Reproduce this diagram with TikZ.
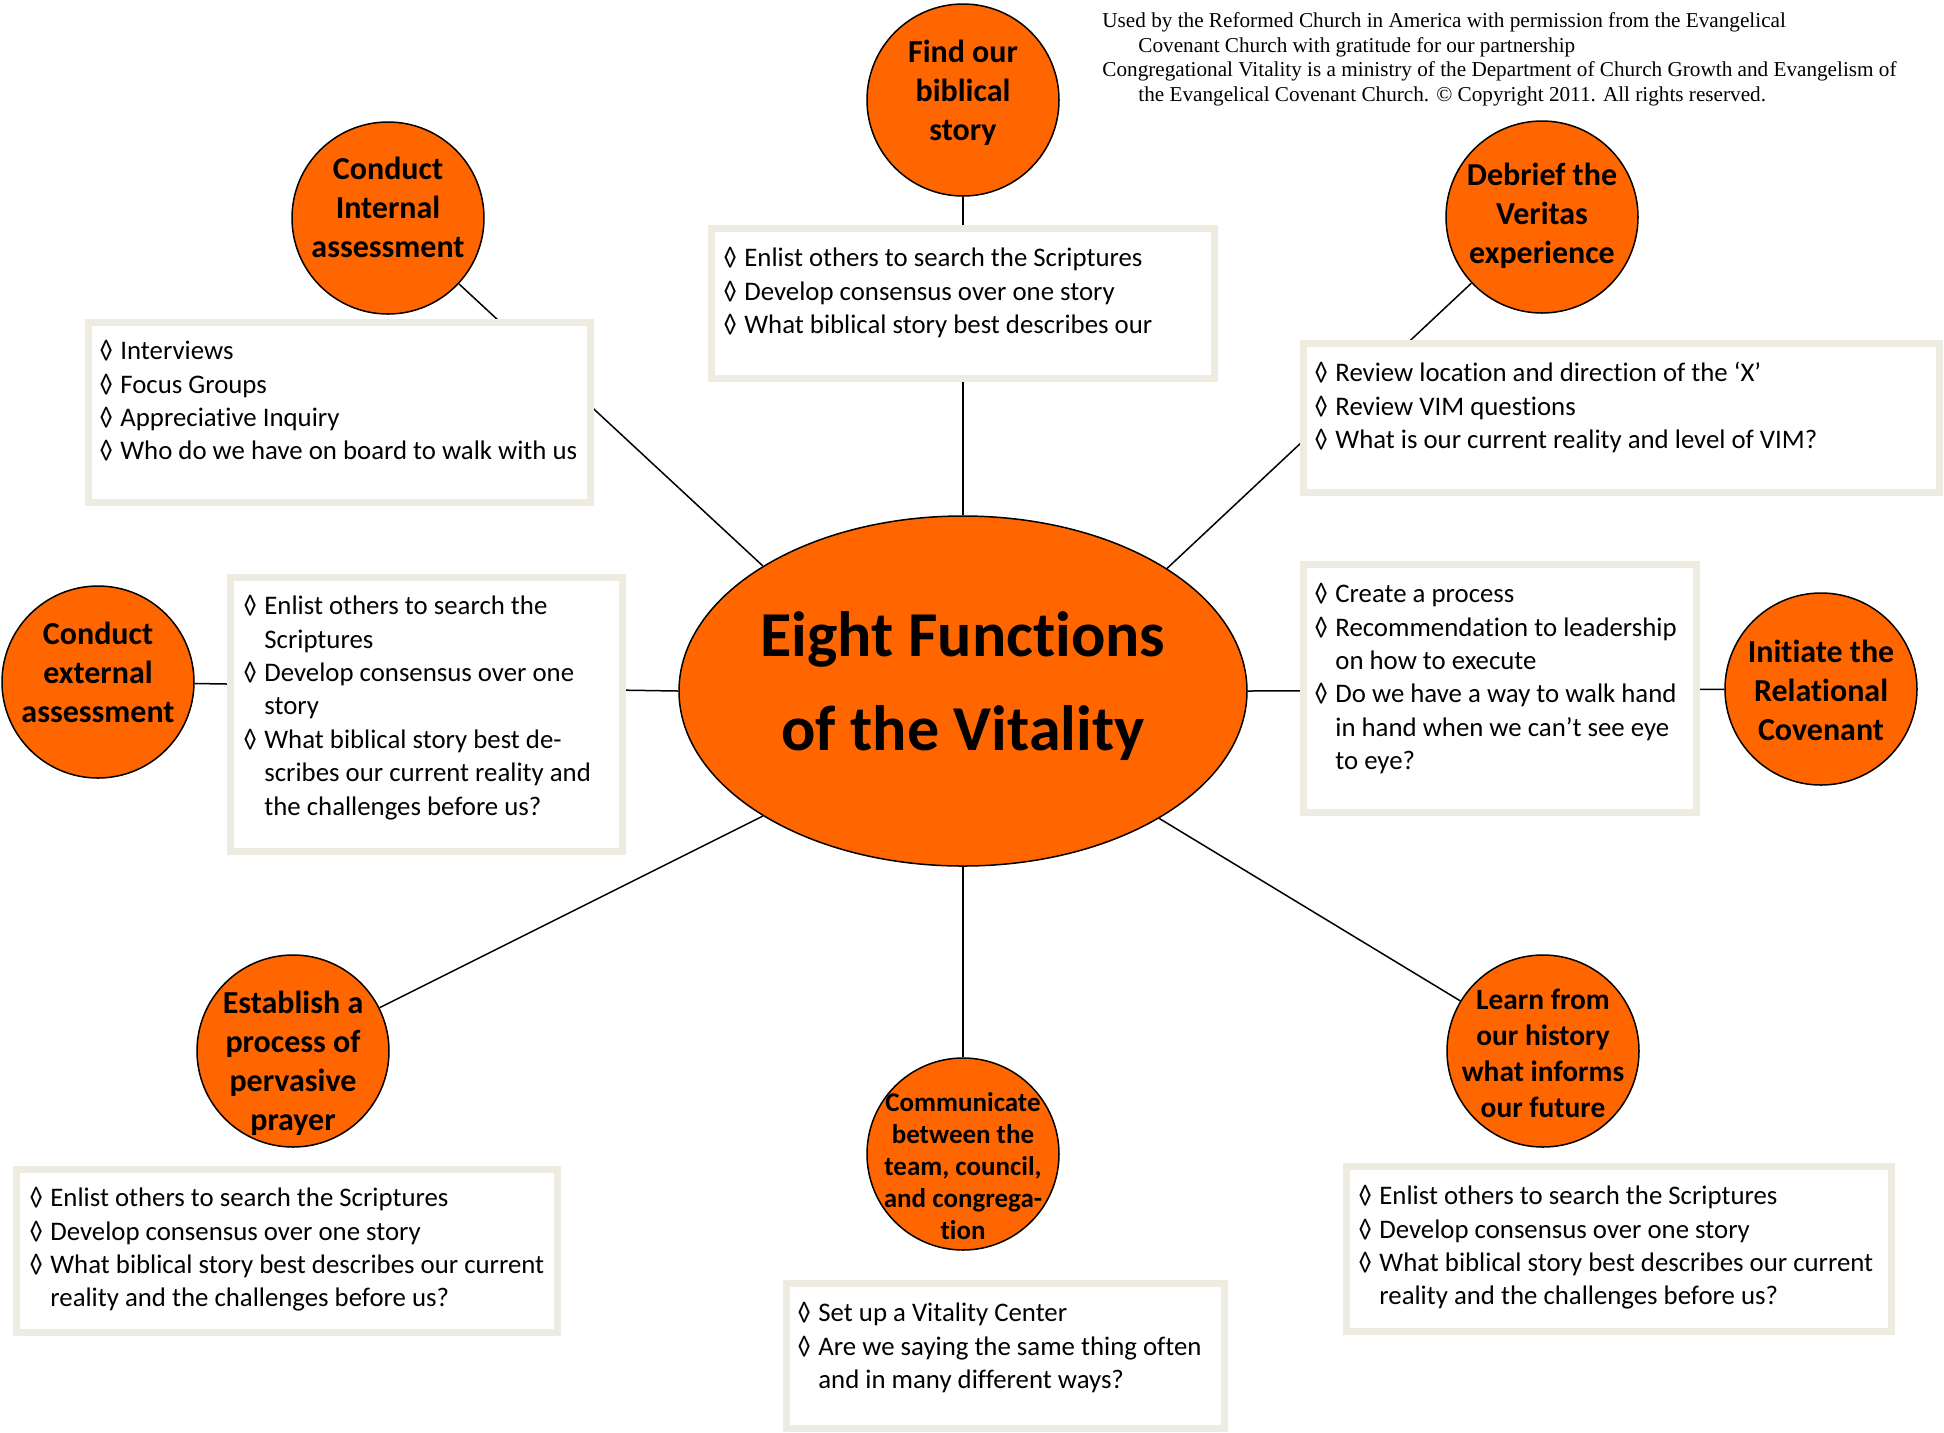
\documentclass[tikz,border=0pt]{standalone}
\usepackage{fontspec}
\setmainfont{Carlito}[Ligatures=NoCommon]
\newfontfamily\notefont{Liberation Serif}
\usetikzlibrary{positioning, shapes.geometric}
\definecolor{vorange}{HTML}{FF6600}
\definecolor{vframe}{HTML}{EEECE1}
\newcommand\lz{\char"25CA}
\newcommand\itm{\makebox[10.5pt][l]{\lz}}
\newcommand\cnt{\hspace*{10.5pt}}
\tikzset{
  fn/.style   ={circle, draw, line width=0.75pt, fill=vorange, minimum size=96pt, inner sep=0pt},
  fntxt/.style={align=center, inner sep=0pt, font=\bfseries\fontsize{16}{19.5}\selectfont},
  hubn/.style ={ellipse, draw, line width=0.75pt, fill=vorange, minimum width=284pt, minimum height=175pt, inner sep=0pt},
  hubtxt/.style={align=center, inner sep=0pt, font=\bfseries\fontsize{32}{47}\selectfont},
  panel/.style={rectangle, draw=vframe, line width=3.5pt, fill=white, anchor=north west, inner sep=0pt},
  items/.style={anchor=north west, align=left, inner sep=0pt, font=\fontsize{13.4}{16.7}\selectfont},
  note/.style ={anchor=north west, align=left, inner sep=0pt, font=\notefont\fontsize{10.6}{12.4}\selectfont},
  spoke/.style={line width=0.75pt},
}
\begin{document}
\begin{tikzpicture}[x=0.5pt, y=-0.5pt]
  \useasboundingbox (0,0) rectangle (1944,1432);
  % hub and the eight functions
  \node[hubn] (hub) at (963,691) {};
  \node[hubtxt] (hubT) at (963,686) {Eight Functions\\of the Vitality};
  \node[fn] (cFind) at (963,100) {};
  \node[fn] (cInt) at (388,218) {};
  \node[fn] (cDeb) at (1542,217) {};
  \node[fn] (cExt) at (98,682) {};
  \node[fn] (cRel) at (1821,689) {};
  \node[fn] (cPray) at (293,1051) {};
  \node[fn] (cComm) at (963,1154) {};
  \node[fn] (cHist) at (1543,1051) {};

  \node[fntxt] (cFindT) at (963,92.5) {Find our\\biblical\\story};
  \node[fntxt] (cIntT) at (388,207.5) {Conduct\\Internal\\assessment};
  \node[fntxt] (cDebT) at (1542,216) {Debrief the\\Veritas\\experience};
  \node[fntxt] (cExtT) at (98,672) {Conduct\\external\\assessment};
  \node[fntxt] (cRelT) at (1821,690) {Initiate the\\Relational\\Covenant};
  \node[fntxt] (cPrayT) at (293,1063) {Establish a\\process of\\pervasive\\prayer};
  \node[fntxt, font=\bfseries\fontsize{13.5}{16}\selectfont] (cCommT) at (963,1166.5) {Communicate\\between the\\team, council,\\and congrega-\\tion};
  \node[fntxt, font=\bfseries\fontsize{14.7}{18}\selectfont] (cHistT) at (1543,1053.5) {Learn from\\our history\\what informs\\our future};

  \draw[spoke] (hub.90) -- (cFind);
  \draw[spoke] (hub.148.6) -- (cInt);
  \draw[spoke] (hub.31.5) -- (cDeb);
  \draw[spoke] (hub.180) -- (cExt);
  \draw[spoke] (hub.0) -- (cRel);
  \draw[spoke] (hub.212) -- (cPray);
  \draw[spoke] (hub.270) -- (cComm);
  \draw[spoke] (hub.327.5) -- (cHist);

  % question panels
  \node[panel, minimum width=251.5pt, minimum height=75pt] (pFind) at (708,225) {};
  \node[panel, minimum width=251pt, minimum height=90pt] (pInt) at (85,319) {};
  \node[panel, minimum width=318pt, minimum height=74.5pt] (pDeb) at (1300,340) {};
  \node[panel, minimum width=196pt, minimum height=137pt] (pExt) at (227,574) {};
  \node[panel, minimum width=196.5pt, minimum height=124pt] (pRel) at (1300,561) {};
  \node[panel, minimum width=270.5pt, minimum height=81.5pt] (pPray) at (13,1166) {};
  \node[panel, minimum width=219pt, minimum height=72.5pt] (pComm) at (783,1280) {};
  \node[panel, minimum width=272.5pt, minimum height=82.5pt] (pHist) at (1343,1163) {};

  \node[items] (tFind) at (723,247) {\itm Enlist others to search the Scriptures\\\itm Develop consensus over one story\\\itm What biblical story best describes our};
  \node[items] (tInt) at (99,340) {\itm Interviews\\\itm Focus Groups\\\itm Appreciative Inquiry\\\itm Who do we have on board to walk with us};
  \node[items] (tDeb) at (1314,362) {\itm Review location and direction of the ‘X’\\\itm Review VIM questions\\\itm What is our current reality and level of VIM?};
  \node[items] (tExt) at (243,595) {\itm Enlist others to search the\\\cnt Scriptures\\\itm Develop consensus over one\\\cnt story\\\itm What biblical story best de-\\\cnt scribes our current reality and\\\cnt the challenges before us?};
  \node[items] (tRel) at (1314,583) {\itm Create a process\\\itm Recommendation to leadership\\\cnt on how to execute\\\itm Do we have a way to walk hand\\\cnt in hand when we can’t see eye\\\cnt to eye?};
  \node[items] (tPray) at (29,1187) {\itm Enlist others to search the Scriptures\\\itm Develop consensus over one story\\\itm What biblical story best describes our current\\\cnt reality and the challenges before us?};
  \node[items] (tComm) at (797,1302) {\itm Set up a Vitality Center\\\itm Are we saying the same thing often\\\cnt and in many different ways?};
  \node[items] (tHist) at (1358,1185) {\itm Enlist others to search the Scriptures\\\itm Develop consensus over one story\\\itm What biblical story best describes our current\\\cnt reality and the challenges before us?};

  \node[note] (credit) at (1102,12) {Used by the Reformed Church in America with permission from the Evangelical\\\hspace*{18pt}Covenant Church with gratitude for our partnership\\Congregational Vitality is a ministry of the Department of Church Growth and Evangelism of\\\hspace*{18pt}the Evangelical Covenant Church. © Copyright 2011. All rights reserved.};
\end{tikzpicture}
\end{document}
